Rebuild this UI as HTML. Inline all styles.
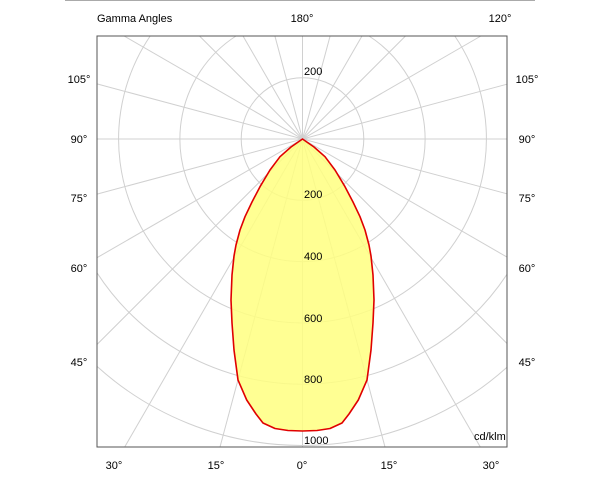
<!DOCTYPE html>
<html><head><style>
html,body{margin:0;padding:0;background:#fff;width:600px;height:486px;overflow:hidden;}
svg{display:block;font-family:"Liberation Sans",Arial,sans-serif;overflow:hidden;}
</style></head><body>
<svg width="600" height="486" viewBox="0 0 600 486" xmlns="http://www.w3.org/2000/svg">
<line x1="65" y1="0.5" x2="535" y2="0.5" stroke="#aaa" stroke-width="1"/>
<rect x="97" y="36" width="410" height="411" fill="#fff"/>
<g stroke="#d0d0d0" stroke-width="1" fill="none">
<circle cx="302.5" cy="139" r="61.3"/>
<path d="M369,36 A122.6,122.6 0 1 1 236,36"/>
<path d="M454.8,36 A183.9,183.9 0 1 1 150.2,36"/>
<path d="M507,274.3 A245.2,245.2 0 0 1 97,272.8"/>
<path d="M507,367.3 A306.5,306.5 0 0 1 97,366.4"/>
<line x1="302.5" y1="447" x2="302.5" y2="36"/>
<line x1="385" y1="447" x2="274.9" y2="36"/>
<line x1="220" y1="447" x2="330.1" y2="36"/>
<line x1="480.3" y1="447" x2="243" y2="36"/>
<line x1="124.7" y1="447" x2="362" y2="36"/>
<line x1="507" y1="343.5" x2="199.5" y2="36"/>
<line x1="97" y1="344.5" x2="405.5" y2="36"/>
<line x1="507" y1="257.1" x2="124.1" y2="36"/>
<line x1="97" y1="257.7" x2="480.9" y2="36"/>
<line x1="507" y1="193.8" x2="97" y2="83.9"/>
<line x1="97" y1="194.1" x2="507" y2="84.2"/>
<line x1="97" y1="139" x2="507" y2="139"/>
</g>
<polygon fill="#ffff80" fill-opacity="0.85" stroke="#e00000" stroke-width="1.6" stroke-linejoin="round" points="302.5,139 291,147 280,156.7 270,170 260,186.7 252,202 245,216.7 240,230 236,245 234,256 232,275 231,300 232,323 234,350 238,380 246.7,400 256,414 263,423 275,428.5 288,430.5 302.5,431 317,430.5 330,428.5 342,423 349,414 358.3,400 367,380 371,350 373,323 374,300 373,275 371,256 369,245 365,230 360,216.7 353,202 345,186.7 335,170 325,156.7 314,147"/>
<g font-size="11" fill="#000">
<text x="304" y="75">200</text>
<text x="304" y="198">200</text>
<text x="304" y="260">400</text>
<text x="304" y="322">600</text>
<text x="304" y="383">800</text>
<text x="304" y="444">1000</text>
<text x="474" y="440">cd/klm</text>
<text x="97" y="22">Gamma Angles</text>
<text x="302" y="22" text-anchor="middle">180°</text>
<text x="500" y="22" text-anchor="middle">120°</text>
<text x="79" y="83" text-anchor="middle">105°</text><text x="527" y="83" text-anchor="middle">105°</text>
<text x="79" y="143" text-anchor="middle">90°</text><text x="527" y="143" text-anchor="middle">90°</text>
<text x="79" y="202" text-anchor="middle">75°</text><text x="527" y="202" text-anchor="middle">75°</text>
<text x="79" y="272" text-anchor="middle">60°</text><text x="527" y="272" text-anchor="middle">60°</text>
<text x="79" y="366" text-anchor="middle">45°</text><text x="527" y="366" text-anchor="middle">45°</text>
<text x="114" y="469" text-anchor="middle">30°</text>
<text x="216" y="469" text-anchor="middle">15°</text>
<text x="302" y="469" text-anchor="middle">0°</text>
<text x="389" y="469" text-anchor="middle">15°</text>
<text x="491" y="469" text-anchor="middle">30°</text>
</g>
<rect x="97" y="36" width="410" height="411" fill="none" stroke="#555" stroke-width="1"/>
</svg>
</body></html>
